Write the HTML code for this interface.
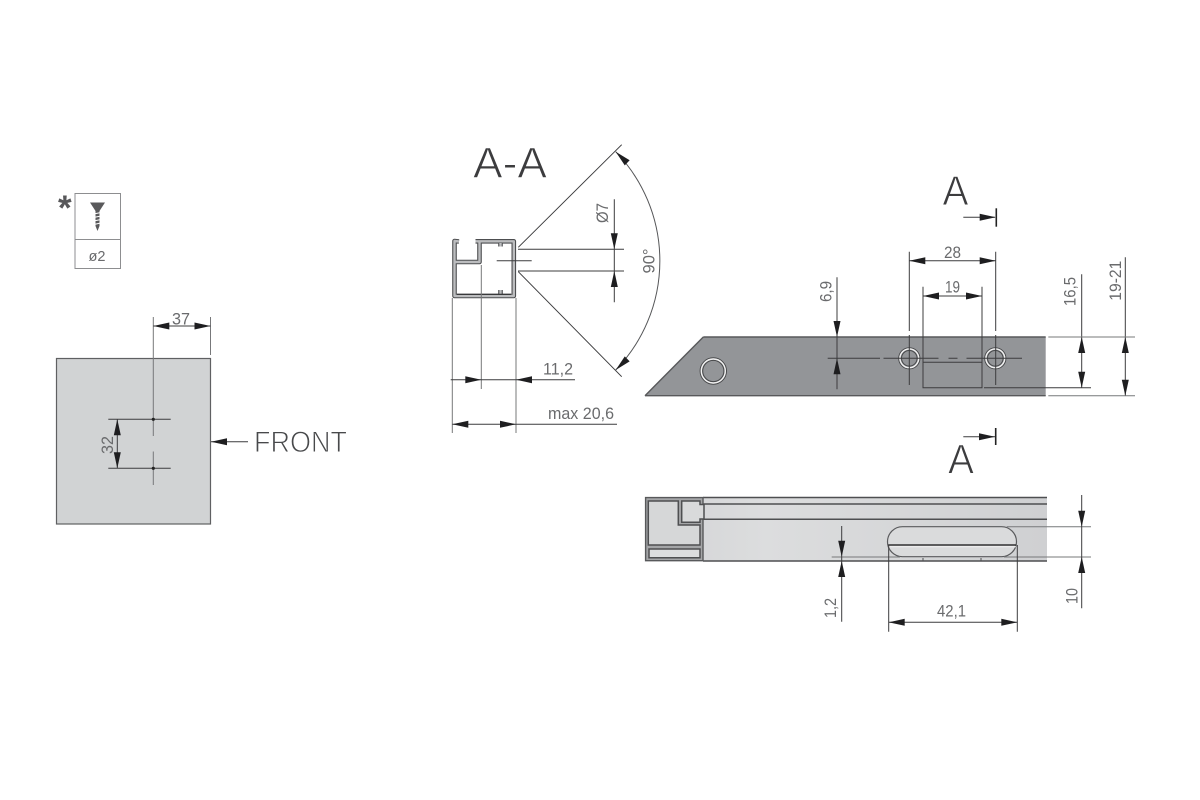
<!DOCTYPE html>
<html>
<head>
<meta charset="utf-8">
<style>
html,body{margin:0;padding:0;background:#fff;}
svg{display:block;}
text{font-family:"Liberation Sans",sans-serif;fill:#6a6b6d;}
.t{stroke:#fff;stroke-width:.9;}
.d{stroke:#3c3c3e;stroke-width:1;fill:none;}
.g{stroke:#77787a;stroke-width:1;fill:none;}
.k{stroke:#555658;stroke-width:1.2;fill:none;}
</style>
</head>
<body>
<svg width="1200" height="800" viewBox="0 0 1200 800" xmlns="http://www.w3.org/2000/svg">
<defs>
<linearGradient id="lg" x1="0" x2="1" y1="0" y2="0">
<stop offset="0" stop-color="#d2d3d5"/><stop offset=".3" stop-color="#dcddde"/><stop offset="1" stop-color="#cfd0d2"/>
</linearGradient>
<path id="a" d="M0 0L-16 -3.5L-16 3.5Z" fill="#1e1e20"/>
</defs>
<rect width="1200" height="800" fill="#fff"/>

<!-- screw box -->
<rect x="75" y="193.5" width="45.5" height="75" fill="#fff" stroke="#8d8e90" stroke-width="1"/>
<line x1="75" y1="239.5" x2="120.5" y2="239.5" stroke="#8d8e90"/>
<path d="M90 202.5H105L99.5 211V226L97.5 231L95.5 226V211Z" fill="#59595b"/>
<path d="M93.5 214L101 212.5M93.5 217.5L101 216M93.5 221L101 219.5M94 224.5L100.5 223" stroke="#fff" stroke-width="1"/>
<text x="58" y="220" font-size="35" font-weight="bold" style="fill:#58585a">*</text>
<text x="88.5" y="261" font-size="15" textLength="17" lengthAdjust="spacingAndGlyphs">ø2</text>

<!-- left panel -->
<rect x="56.5" y="358.5" width="154" height="165.5" fill="#d1d3d4" stroke="#5f6062" stroke-width="1.2"/>
<path class="g" d="M153.3 317V436M153.3 451.5V485M210.5 317V355"/>
<path class="d" d="M108.3 419.3H170.7M108.3 468.3H170.7M117.3 419.3V468.3M153.3 326H210.5M211 441.7H248"/>
<circle cx="153.3" cy="419.3" r="1.6" fill="#222"/>
<circle cx="153.3" cy="468.3" r="1.6" fill="#222"/>
<use href="#a" transform="translate(153.3 326) rotate(180)"/>
<use href="#a" transform="translate(210.5 326)"/>
<use href="#a" transform="translate(117.3 419.3) rotate(-90)"/>
<use href="#a" transform="translate(117.3 468.3) rotate(90)"/>
<use href="#a" transform="translate(211 441.7) rotate(180)"/>
<text x="172" y="324.5" font-size="16.5" textLength="18" lengthAdjust="spacingAndGlyphs">37</text>
<text transform="translate(113 454) rotate(-90)" font-size="16.5" textLength="18" lengthAdjust="spacingAndGlyphs">32</text>
<text class="t" x="254" y="452" font-size="30" textLength="93" lengthAdjust="spacingAndGlyphs" style="fill:#48494b">FRONT</text>

<!-- A-A -->
<text class="t" x="473" y="178" font-size="44" textLength="74" lengthAdjust="spacingAndGlyphs" style="fill:#3c3c3e">A-A</text>
<g fill="none" stroke-linejoin="round">
<path stroke="#4d4e50" stroke-width="4.6" d="M459 241.5L454.5 241V296H513.8V241.3H475.5M479.5 241.3V262H454.5M500.5 243V246.5M500.5 294V290"/>
<path stroke="#bcbdbf" stroke-width="2.4" d="M459 241.5L454.5 241V296H513.8V241.3H475.5M479.5 241.3V262H454.5M500.5 243V246.5M500.5 294V290"/>
</g>
<path d="M457 294.3H511" stroke="#2e2e30" stroke-width="1.2"/>
<path class="g" d="M452.3 298V433M481.3 265V389M516 298V433"/>
<path class="d" d="M518.3 247.3L621.7 144.7M518.3 271.7L621.7 376.7M518 249.3H624M518 271H624M496.7 260.7H531.7M614.3 199.3V302.3"/>
<path class="k" style="stroke-width:1" d="M615.7 151.7A157 157 0 0 1 615.7 370"/>
<path class="d" d="M450.7 379.7H575M452.3 424.3H617"/>
<use href="#a" transform="translate(614.3 249.3) rotate(90)"/>
<use href="#a" transform="translate(614.3 271) rotate(-90)"/>
<use href="#a" transform="translate(615.7 151.7) rotate(-136)"/>
<use href="#a" transform="translate(615.7 370) rotate(136)"/>
<use href="#a" transform="translate(481.3 379.7)"/>
<use href="#a" transform="translate(516 379.7) rotate(180)"/>
<use href="#a" transform="translate(452.3 424.3) rotate(180)"/>
<use href="#a" transform="translate(516 424.3)"/>
<text transform="translate(608 223) rotate(-90)" font-size="17" textLength="20" lengthAdjust="spacingAndGlyphs">Ø7</text>
<text transform="translate(654.5 273.5) rotate(-90)" font-size="16.5" textLength="25" lengthAdjust="spacingAndGlyphs">90°</text>
<text x="543" y="374.5" font-size="16.5" textLength="30" lengthAdjust="spacingAndGlyphs">11,2</text>
<text x="548" y="419" font-size="16.5" textLength="66" lengthAdjust="spacingAndGlyphs">max 20,6</text>

<!-- top bar -->
<path d="M703.3 337H1045.7V395.7H645Z" fill="#939598"/>
<path d="M645 395.7H1045.7M703.3 337H1045.7M703.3 337L645 395.7" stroke="#58595b" stroke-width="1.4" fill="none"/>
<circle cx="713.3" cy="371" r="13.2" fill="none" stroke="#48494b" stroke-width="1"/>
<circle cx="713.3" cy="371" r="12" fill="none" stroke="#f2f2f2" stroke-width="1.4"/>
<circle cx="713.3" cy="371" r="10.6" fill="none" stroke="#48494b" stroke-width="1"/>
<circle cx="909.3" cy="358.3" r="10.6" fill="none" stroke="#48494b" stroke-width="1"/>
<circle cx="909.3" cy="358.3" r="9.4" fill="none" stroke="#f2f2f2" stroke-width="1.4"/>
<circle cx="909.3" cy="358.3" r="7.8" fill="none" stroke="#48494b" stroke-width="1"/>
<circle cx="995.3" cy="358.3" r="10.6" fill="none" stroke="#48494b" stroke-width="1"/>
<circle cx="995.3" cy="358.3" r="9.4" fill="none" stroke="#f2f2f2" stroke-width="1.4"/>
<circle cx="995.3" cy="358.3" r="7.8" fill="none" stroke="#48494b" stroke-width="1"/>
<path class="d" d="M923 334V387.7H982V334M923 362.3H982M984 387.7H1091"/>
<path class="d" d="M827.7 358.3H880M883.5 358.3H938.5M948.5 358.3H957.5M966.5 358.3H1022"/>
<path class="d" d="M909.3 251.7V331M909.3 335V385M995.7 251.7V331M995.7 335V385M923 286.7V334M982 286.7V334"/>
<path class="d" d="M909.3 260.7H995.7M923 296H982M837 277.3V389.3M1081.7 274.3V387.7M1125.3 257.3V395.7"/>
<path class="g" d="M1048.3 337H1135M1048.3 395.7H1135"/>
<path class="d" d="M963.3 217.3H995"/>
<line x1="996.3" y1="208.3" x2="996.3" y2="226.7" stroke="#222" stroke-width="1.6"/>
<use href="#a" transform="translate(995.7 217.3)"/>
<use href="#a" transform="translate(909.3 260.7) rotate(180)"/>
<use href="#a" transform="translate(995.7 260.7)"/>
<use href="#a" transform="translate(923 296) rotate(180)"/>
<use href="#a" transform="translate(982 296)"/>
<use href="#a" transform="translate(837 337) rotate(90)"/>
<use href="#a" transform="translate(837 358.3) rotate(-90)"/>
<use href="#a" transform="translate(1081.7 337) rotate(-90)"/>
<use href="#a" transform="translate(1081.7 387.7) rotate(90)"/>
<use href="#a" transform="translate(1125.3 337) rotate(-90)"/>
<use href="#a" transform="translate(1125.3 395.7) rotate(90)"/>
<text class="t" x="942.5" y="205" font-size="42" textLength="26" lengthAdjust="spacingAndGlyphs" style="fill:#3c3c3e">A</text>
<text x="944" y="258" font-size="16.5" textLength="17" lengthAdjust="spacingAndGlyphs">28</text>
<text x="945" y="292.7" font-size="16.5" textLength="15" lengthAdjust="spacingAndGlyphs">19</text>
<text transform="translate(831.5 302) rotate(-90)" font-size="16.5" textLength="21" lengthAdjust="spacingAndGlyphs">6,9</text>
<text transform="translate(1075.5 306) rotate(-90)" font-size="16.5" textLength="29" lengthAdjust="spacingAndGlyphs">16,5</text>
<text transform="translate(1121 300.7) rotate(-90)" font-size="16.5" textLength="40" lengthAdjust="spacingAndGlyphs">19-21</text>

<!-- bottom bar -->
<text class="t" x="948" y="473.3" font-size="42" textLength="26" lengthAdjust="spacingAndGlyphs" style="fill:#3c3c3e">A</text>
<path class="d" d="M963.3 436.7H995"/>
<line x1="995.7" y1="428" x2="995.7" y2="445" stroke="#222" stroke-width="1.6"/>
<use href="#a" transform="translate(995 436.7)"/>
<rect x="645" y="497.3" width="402" height="63.7" fill="url(#lg)"/>
<path d="M703 497.5H1047M703 504H1047M703 519.3H1047M703 561H1047" stroke="#4e4f51" stroke-width="1.5" fill="none"/>
<path d="M645.6 497.6H703V560.7H645.6Z" fill="#a4a5a7" stroke="#58595b" stroke-width="1.4"/>
<path d="M648.3 501H678.3V525H700V545H648.3Z" fill="#d6d7d8" stroke="#4e4f51" stroke-width="1.5"/>
<path d="M649 549H700V557.7H649Z" fill="#dcddde" stroke="#4e4f51" stroke-width="1.5"/>
<path d="M681.7 501H700V504.5H704V519H700V522.3H681.7Z" fill="#d9dadb" stroke="#4e4f51" stroke-width="1.5"/>
<rect x="887.5" y="526.7" width="129" height="30" rx="15" ry="15" fill="#dadbdc" stroke="#5a5b5d" stroke-width="1.2"/>
<path d="M888.3 545H1016" stroke="#333" stroke-width="1.4"/>
<path d="M888.3 546.8H1016" stroke="#f2f2f2" stroke-width="1"/>
<path d="M923 558V561M981 558V561" stroke="#4e4f51" stroke-width="1"/>
<path class="g" d="M1006.7 526.7H1091M1004 557H1091M831.7 557H900"/>
<path class="d" d="M1081.7 495V608.3M841.7 526V621.7M888.7 545V631.7M1017.3 545V631.7M888.7 622.3H1017.3"/>
<use href="#a" transform="translate(1081.7 526.7) rotate(90)"/>
<use href="#a" transform="translate(1081.7 557) rotate(-90)"/>
<use href="#a" transform="translate(841.7 556.7) rotate(90)"/>
<use href="#a" transform="translate(841.7 561) rotate(-90)"/>
<use href="#a" transform="translate(888.7 622.3) rotate(180)"/>
<use href="#a" transform="translate(1017.3 622.3)"/>
<text x="937" y="616.7" font-size="16.5" textLength="29" lengthAdjust="spacingAndGlyphs">42,1</text>
<text transform="translate(1077.5 604) rotate(-90)" font-size="16.5" textLength="16" lengthAdjust="spacingAndGlyphs">10</text>
<text transform="translate(836 618) rotate(-90)" font-size="16.5" textLength="20" lengthAdjust="spacingAndGlyphs">1,2</text>
</svg>
</body>
</html>
